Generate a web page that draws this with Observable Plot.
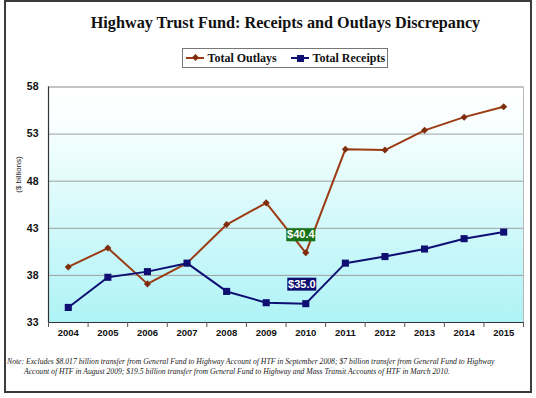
<!DOCTYPE html>
<html><head><meta charset="utf-8">
<script src="https://cdn.jsdelivr.net/npm/d3@7"></script>
<script src="https://cdn.jsdelivr.net/npm/@observablehq/plot@0.6"></script>
<style>
body{margin:0;background:#fff;width:536px;height:398px;position:relative;overflow:hidden}
#frame{position:absolute;left:4px;top:0;width:528px;height:393px;box-sizing:border-box;border:2px solid #3c3c3c}
#title{position:absolute;left:48px;width:475px;top:14px;text-align:center;font:bold 16.2px "Liberation Serif";line-height:18px;color:#111;white-space:nowrap}
#legend{position:absolute;left:182px;top:48px;width:206px;height:20px;box-sizing:border-box;border:1px solid #777;font:bold 12px "Liberation Serif";color:#111;background:#fff}
#legend .sw{position:absolute;top:8px;width:18px;height:2px}
#legend .mk{position:absolute}
#legend .lb{position:absolute;top:3px;line-height:13px;white-space:nowrap}
#chart{position:absolute;left:0;top:80px}
#note{position:absolute;left:7px;top:357px;font:italic 7.7px "Liberation Serif";line-height:10px;color:#222;white-space:nowrap}
#note div+div{padding-left:17px}
</style>
</head><body>
<div id="frame"></div>
<div id="title"></div>
<div id="legend"></div>
<div id="chart"></div>
<div id="note"></div>
<script>
// ---- data ----
const titleText = "Highway Trust Fund: Receipts and Outlays Discrepancy";
const years = [2004, 2005, 2006, 2007, 2008, 2009, 2010, 2011, 2012, 2013, 2014, 2015];
const outlays = [38.9, 40.9, 37.1, 39.3, 43.4, 45.7, 40.4, 51.4, 51.3, 53.4, 54.8, 55.9];
const receipts = [34.6, 37.8, 38.4, 39.3, 36.3, 35.1, 35.0, 39.3, 40.0, 40.8, 41.9, 42.6];
const seriesNames = ["Total Outlays", "Total Receipts"];
const yTicks = [33, 38, 43, 48, 53, 58];
const yLabel = "($ billions)";
const calloutYear = 2010;
const noteLines = [
  "Note: Excludes $8.017 billion transfer from General Fund to Highway Account of HTF in September 2008; $7 billion transfer from General Fund to Highway",
  "Account of HTF in August 2009; $19.5 billion transfer from General Fund to Highway and Mass Transit Accounts of HTF in March 2010."
];

// ---- styles ----
const brown = "#9a3b12", brownDot = "#7e2e0c";
const navy = "#0f0f73";
const green = "#187318";

document.getElementById("title").textContent = titleText;
const nt = document.getElementById("note");
noteLines.forEach(t => { const d = document.createElement("div"); d.textContent = t; nt.appendChild(d); });

// legend
const lg = document.getElementById("legend");
const legendItems = [
  {name: seriesNames[0], color: brown, sw: 3, lb: 24.5, marker: "diamond"},
  {name: seriesNames[1], color: navy, sw: 108, lb: 129.5, marker: "square"}
];
legendItems.forEach(it => {
  const s = document.createElement("div"); s.className = "sw";
  s.style.left = it.sw + "px"; s.style.background = it.color; lg.appendChild(s);
  const m = document.createElement("div"); m.className = "mk";
  if (it.marker === "diamond") {
    Object.assign(m.style, {left: (it.sw + 7) + "px", top: "6px", width: "5px", height: "5px", background: brownDot, transform: "rotate(45deg)"});
  } else {
    Object.assign(m.style, {left: (it.sw + 5.5) + "px", top: "5.5px", width: "7px", height: "7px", background: it.color});
  }
  lg.appendChild(m);
  const l = document.createElement("div"); l.className = "lb";
  l.style.left = it.lb + "px"; l.textContent = it.name; lg.appendChild(l);
});

const outData = years.map((y, i) => ({year: y, v: outlays[i]}));
const recData = years.map((y, i) => ({year: y, v: receipts[i]}));
const xDomain = [years[0] - 0.5, years[years.length - 1] + 0.5];
const sepTicks = [xDomain[0], ...years.map(y => y + 0.5)];

const ci = years.indexOf(calloutYear);
const callouts = [
  {year: calloutYear, v: outlays[ci], text: "$" + outlays[ci].toFixed(1), color: green, dx: -5, dy: -18},
  {year: calloutYear, v: receipts[ci], text: "$" + receipts[ci].toFixed(1), color: navy, dx: -4, dy: -19.5}
];
const boxSymbol = {draw(ctx) { ctx.rect(-14.5, -6.5, 29, 13); }};

const chart = Plot.plot({
  width: 536, height: 260,
  marginLeft: 48, marginRight: 13, marginTop: 6.5, marginBottom: 18,
  style: {fontFamily: "Liberation Sans", background: "transparent", overflow: "visible"},
  x: {type: "linear", domain: xDomain},
  y: {domain: [yTicks[0], yTicks[yTicks.length - 1]]},
  marks: [
    Plot.frame({fill: "url(#bgGrad)", stroke: "none"}),
    Plot.gridY(yTicks, {stroke: "#a0a0a0", strokeOpacity: 1}),
    Plot.frame({stroke: "#b8b8b8"}),
    Plot.ruleX([xDomain[0]], {stroke: "#333", strokeWidth: 1.2}),
    Plot.ruleY([yTicks[0]], {stroke: "#333", strokeWidth: 1.2}),
    Plot.axisY(yTicks, {tickSize: 0, tickPadding: 10, fontWeight: "bold", fontSize: 10.5, fill: "#111", label: null}),
    Plot.axisX(sepTicks, {tickSize: 5, stroke: "#555", tickFormat: () => "", label: null}),
    Plot.axisX(years, {tickSize: 0, tickPadding: 7, tickFormat: d => String(d), fontWeight: "bold", fontSize: 9.5, fill: "#111", label: null}),
    Plot.text([yLabel], {frameAnchor: "left", rotate: -90, dx: -30, dy: -12, fontSize: 8, fill: "#222"}),
    Plot.line(outData, {x: "year", y: "v", stroke: brown, strokeWidth: 2}),
    Plot.line(recData, {x: "year", y: "v", stroke: navy, strokeWidth: 2}),
    Plot.dot(outData, {x: "year", y: "v", symbol: "square", rotate: 45, r: 2.8, fill: brownDot, stroke: "none"}),
    Plot.dot(recData, {x: "year", y: "v", symbol: "square", r: 4, fill: navy, stroke: "none"}),
    ...callouts.map(c => Plot.dot([c], {x: "year", y: "v", symbol: boxSymbol, r: 5, fill: c.color, stroke: "none", dx: c.dx, dy: c.dy})),
    ...callouts.map(c => Plot.text([c], {x: "year", y: "v", text: "text", fill: "white", fontWeight: "bold", fontSize: 11, dx: c.dx, dy: c.dy}))
  ]
});
const ns = "http://www.w3.org/2000/svg";
const defs = document.createElementNS(ns, "defs");
defs.innerHTML = '<linearGradient id="bgGrad" x1="0" y1="0" x2="0" y2="1"><stop offset="0" stop-color="#ffffff"/><stop offset="0.12" stop-color="#fbffff"/><stop offset="1" stop-color="#aef3f6"/></linearGradient>';
chart.insertBefore(defs, chart.firstChild);
document.getElementById("chart").appendChild(chart);
</script>
</body></html>
